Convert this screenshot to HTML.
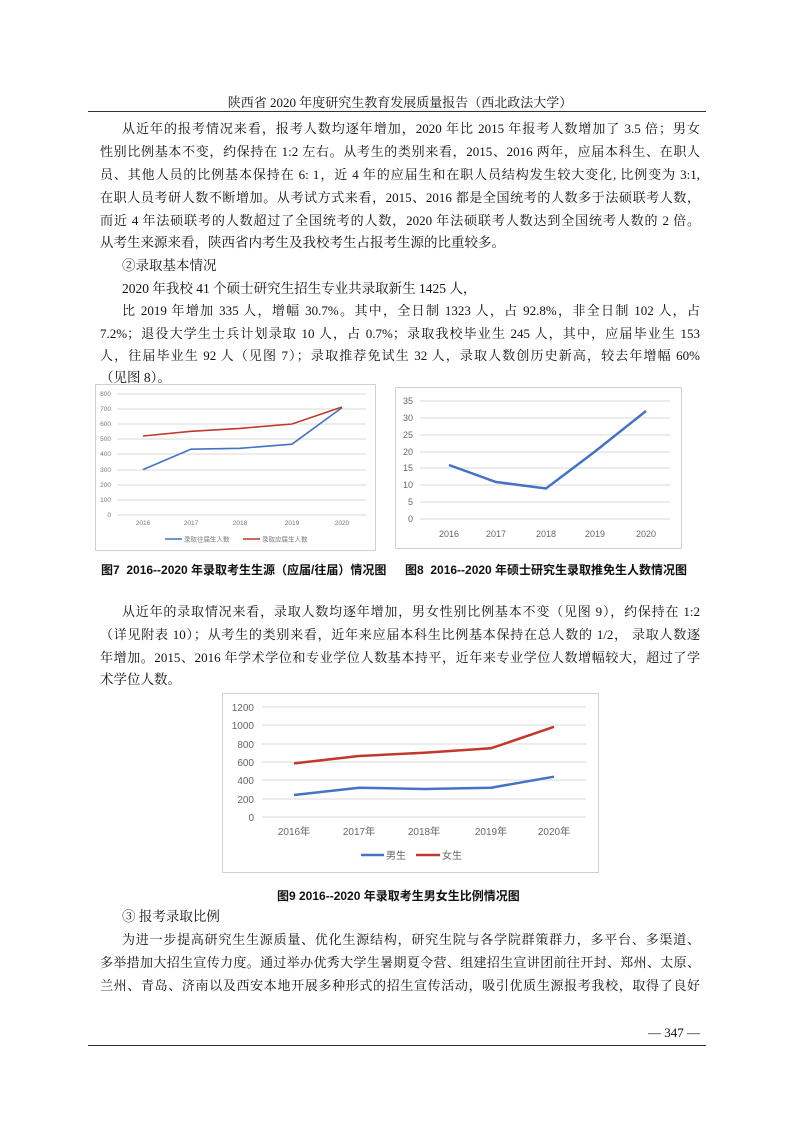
<!DOCTYPE html>
<html><head><meta charset="utf-8"><style>
body{margin:0;background:#fff;}
#pg{position:relative;width:793px;height:1122px;overflow:hidden;font-family:"Liberation Serif","Noto Serif CJK SC","Noto Sans CJK SC",serif;color:#111;}
.l{position:absolute;left:100px;width:600px;font-size:13.5px;line-height:18px;white-space:nowrap;}
.j{text-align:justify;text-align-last:justify;white-space:normal;height:18px;overflow:hidden;font-size:13px;}
.i{left:122px;width:578px;}
.cap{position:absolute;font-family:"Liberation Sans","Noto Sans CJK SC",sans-serif;font-size:12px;font-weight:bold;white-space:nowrap;}
svg text{font-family:"Liberation Sans","Noto Sans CJK SC",sans-serif;}
</style></head><body><div id="pg">
<div class="l" style="top:94px;left:100px;width:600px;text-align:center;font-size:13px">陕西省 2020 年度研究生教育发展质量报告（西北政法大学）</div>
<div style="position:absolute;left:88px;width:618px;top:111px;border-top:1px solid #333"></div>

<div class="l j i" style="top:120px">从近年的报考情况来看，报考人数均逐年增加，2020 年比 2015 年报考人数增加了 3.5 倍；男女</div>
<div class="l j" style="top:143px">性别比例基本不变，约保持在 1:2 左右。从考生的类别来看，2015、2016 两年，应届本科生、在职人</div>
<div class="l j" style="top:166px">员、其他人员的比例基本保持在 6: 1，近 4 年的应届生和在职人员结构发生较大变化, 比例变为 3:1,</div>
<div class="l j" style="top:189px">在职人员考研人数不断增加。从考试方式来看，2015、2016 都是全国统考的人数多于法硕联考人数，</div>
<div class="l j" style="top:212px">而近 4 年法硕联考的人数超过了全国统考的人数，2020 年法硕联考人数达到全国统考人数的 2 倍。</div>
<div class="l" style="top:234px">从考生来源来看，陕西省内考生及我校考生占报考生源的比重较多。</div>
<div class="l i" style="top:257px">②录取基本情况</div>
<div class="l i" style="top:280px">2020 年我校 41 个硕士研究生招生专业共录取新生 1425 人，</div>
<div class="l j i" style="top:302px">比 2019 年增加 335 人，增幅 30.7%。其中，全日制 1323 人，占 92.8%，非全日制 102 人，占</div>
<div class="l j" style="top:325px">7.2%；退役大学生士兵计划录取 10 人，占 0.7%；录取我校毕业生 245 人，其中，应届毕业生 153</div>
<div class="l j" style="top:347px">人，往届毕业生 92 人（见图 7）；录取推荐免试生 32 人，录取人数创历史新高，较去年增幅 60%</div>
<div class="l" style="top:369px">（见图 8）。</div>

<svg style="position:absolute;left:0;top:0" width="793" height="1122">
<rect x="95.5" y="384.5" width="280" height="166" fill="#fff" stroke="#d0d0d0"/>
<g stroke="#d9d9d9" stroke-width="1">
<line x1="117" x2="366" y1="394" y2="394"/><line x1="117" x2="366" y1="409" y2="409"/><line x1="117" x2="366" y1="424" y2="424"/><line x1="117" x2="366" y1="439" y2="439"/><line x1="117" x2="366" y1="454" y2="454"/><line x1="117" x2="366" y1="470" y2="470"/><line x1="117" x2="366" y1="485" y2="485"/><line x1="117" x2="366" y1="500" y2="500"/><line x1="117" x2="366" y1="515" y2="515"/>
</g>
<g font-size="6.5" fill="#777" text-anchor="end">
<text x="111" y="396">800</text><text x="111" y="411">700</text><text x="111" y="426">600</text><text x="111" y="441">500</text><text x="111" y="456">400</text><text x="111" y="472">300</text><text x="111" y="487">200</text><text x="111" y="502">100</text><text x="111" y="517">0</text>
</g>
<g font-size="6.5" fill="#777" text-anchor="middle">
<text x="143" y="525">2016</text><text x="191" y="525">2017</text><text x="240" y="525">2018</text><text x="292" y="525">2019</text><text x="342" y="525">2020</text>
</g>
<polyline fill="none" stroke="#4472c4" stroke-width="1.6" points="143,469.6 191,449.2 240,448.3 292,444.2 342,407.6"/>
<polyline fill="none" stroke="#c0392b" stroke-width="1.6" points="143,436 191,431.3 240,428.4 292,424 342,407"/>
<line x1="165" x2="182" y1="539" y2="539" stroke="#4472c4" stroke-width="1.6"/><text x="184" y="541.5" font-size="6.5" fill="#777">录取往届生人数</text>
<line x1="243" x2="260" y1="539" y2="539" stroke="#c0392b" stroke-width="1.6"/><text x="262" y="541.5" font-size="6.5" fill="#777">录取应届生人数</text>

<rect x="395.5" y="387.5" width="286" height="161" fill="#fff" stroke="#d0d0d0"/>
<g stroke="#d9d9d9">
<line x1="420" x2="670" y1="401" y2="401"/><line x1="420" x2="670" y1="418" y2="418"/><line x1="420" x2="670" y1="435" y2="435"/><line x1="420" x2="670" y1="452" y2="452"/><line x1="420" x2="670" y1="468" y2="468"/><line x1="420" x2="670" y1="485" y2="485"/><line x1="420" x2="670" y1="502" y2="502"/><line x1="420" x2="670" y1="519" y2="519"/>
</g>
<g font-size="9" fill="#666" text-anchor="end">
<text x="413" y="404">35</text><text x="413" y="421">30</text><text x="413" y="438">25</text><text x="413" y="455">20</text><text x="413" y="471">15</text><text x="413" y="488">10</text><text x="413" y="505">5</text><text x="413" y="522">0</text>
</g>
<g font-size="9" fill="#666" text-anchor="middle">
<text x="449" y="537">2016</text><text x="496" y="537">2017</text><text x="546" y="537">2018</text><text x="595" y="537">2019</text><text x="646" y="537">2020</text>
</g>
<polyline fill="none" stroke="#4472c4" stroke-width="2.5" points="449,465 496,482 546,488.5 595,451.5 646,411"/>

<rect x="222.5" y="693.5" width="376" height="179" fill="#fff" stroke="#d0d0d0"/>
<g stroke="#d9d9d9">
<line x1="262" x2="586" y1="707" y2="707"/><line x1="262" x2="586" y1="725" y2="725"/><line x1="262" x2="586" y1="744" y2="744"/><line x1="262" x2="586" y1="762" y2="762"/><line x1="262" x2="586" y1="780" y2="780"/><line x1="262" x2="586" y1="799" y2="799"/><line x1="262" x2="586" y1="817" y2="817"/>
</g>
<g font-size="10" fill="#666" text-anchor="end">
<text x="254" y="711">1200</text><text x="254" y="729">1000</text><text x="254" y="748">800</text><text x="254" y="766">600</text><text x="254" y="784">400</text><text x="254" y="803">200</text><text x="254" y="821">0</text>
</g>
<g font-size="10" fill="#666" text-anchor="middle">
<text x="294" y="835">2016年</text><text x="359" y="835">2017年</text><text x="424" y="835">2018年</text><text x="491" y="835">2019年</text><text x="554" y="835">2020年</text>
</g>
<polyline fill="none" stroke="#4472c4" stroke-width="2.5" points="294,795 359,787.7 424,789 491,787.7 554,776.7"/>
<polyline fill="none" stroke="#c0392b" stroke-width="2.5" points="294,763.4 359,756 424,752.8 491,748.3 554,726.8"/>
<line x1="361" x2="384" y1="855" y2="855" stroke="#4472c4" stroke-width="2.5"/><text x="386" y="859" font-size="10" fill="#666">男生</text>
<line x1="416" x2="440" y1="855" y2="855" stroke="#c0392b" stroke-width="2.5"/><text x="442" y="859" font-size="10" fill="#666">女生</text>
</svg>

<div class="cap" style="left:101px;top:561px">图7 &nbsp;2016--2020 年录取考生生源（应届/往届）情况图</div>
<div class="cap" style="left:405px;top:561px">图8 &nbsp;2016--2020 年硕士研究生录取推免生人数情况图</div>
<div class="cap" style="left:277px;top:887px">图9 2016--2020 年录取考生男女生比例情况图</div>

<div class="l j i" style="top:603px">从近年的录取情况来看，录取人数均逐年增加，男女性别比例基本不变（见图 9），约保持在 1:2</div>
<div class="l j" style="top:626px">（详见附表 10）；从考生的类别来看，近年来应届本科生比例基本保持在总人数的 1/2， 录取人数逐</div>
<div class="l j" style="top:649px">年增加。2015、2016 年学术学位和专业学位人数基本持平，近年来专业学位人数增幅较大，超过了学</div>
<div class="l" style="top:671px">术学位人数。</div>
<div class="l i" style="top:908px">③ 报考录取比例</div>
<div class="l j i" style="top:931px">为进一步提高研究生生源质量、优化生源结构，研究生院与各学院群策群力，多平台、多渠道、</div>
<div class="l j" style="top:954px">多举措加大招生宣传力度。通过举办优秀大学生暑期夏令营、组建招生宣讲团前往开封、郑州、太原、</div>
<div class="l j" style="top:977px">兰州、青岛、济南以及西安本地开展多种形式的招生宣传活动，吸引优质生源报考我校，取得了良好</div>

<div class="l" style="top:1024px;left:640px;width:60px;text-align:right;font-size:13px">— 347 —</div>
<div style="position:absolute;left:88px;width:618px;top:1045px;border-top:1px solid #333"></div>
</div></body></html>
